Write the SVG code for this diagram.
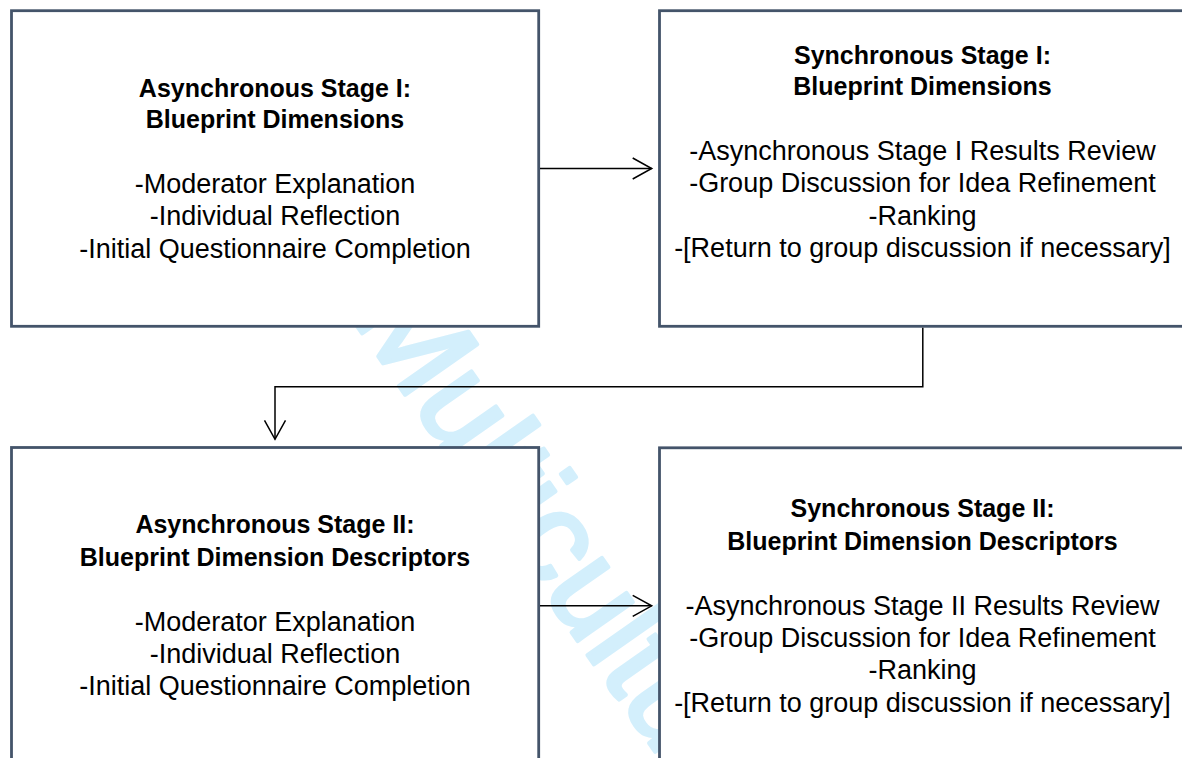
<svg xmlns="http://www.w3.org/2000/svg" width="1182" height="758" viewBox="0 0 1182 758">
  <style>
    .box { fill: #ffffff; stroke: #44546a; stroke-width: 2.8; }
    .title { font-family: "Liberation Sans", Arial, sans-serif; font-weight: bold; font-size: 25px; fill: #000000; text-anchor: middle; }
    .item { font-family: "Liberation Sans", Arial, sans-serif; font-size: 27px; fill: #000000; text-anchor: middle; }
    .conn { fill: none; stroke: #000000; stroke-width: 1.5; }
    .mark { font-family: "Liberation Sans", Arial, sans-serif; font-size: 128px; fill: #d3effc; stroke: #d3effc; stroke-width: 4; stroke-linejoin: round; }
  </style>
  <defs>
    <marker id="chevron" markerUnits="userSpaceOnUse" viewBox="-25 -15 30 30" markerWidth="30" markerHeight="30" refX="0" refY="0" orient="auto">
      <path d="M-19,-10.5 L0,0 L-19,10.5" fill="none" stroke="#000000" stroke-width="1.5"/>
    </marker>
  </defs>

  <rect width="1182" height="758" fill="#ffffff"/>

  <!-- background watermark, covered by the white boxes -->
  <text class="mark" transform="translate(350,316) rotate(55)">Multicultural</text>

  <g id="async-stage-1">
    <rect class="box" x="11.5" y="10.7" width="527.2" height="315.6"/>
    <text class="title" x="275" y="96.7">Asynchronous Stage I:</text>
    <text class="title" x="275" y="128.3">Blueprint Dimensions</text>
    <text class="item" x="275" y="193">-Moderator Explanation</text>
    <text class="item" x="275" y="225.3">-Individual Reflection</text>
    <text class="item" x="275" y="257.5">-Initial Questionnaire Completion</text>
  </g>

  <g id="sync-stage-1">
    <rect class="box" x="659.5" y="10.7" width="527" height="315.6"/>
    <text class="title" x="922.5" y="63.5">Synchronous Stage I:</text>
    <text class="title" x="922.5" y="95.3">Blueprint Dimensions</text>
    <text class="item" x="922.5" y="160">-Asynchronous Stage I Results Review</text>
    <text class="item" x="922.5" y="192.3">-Group Discussion for Idea Refinement</text>
    <text class="item" x="922.5" y="224.5">-Ranking</text>
    <text class="item" x="922.5" y="256.7">-[Return to group discussion if necessary]</text>
  </g>

  <g id="async-stage-2">
    <rect class="box" x="11.5" y="447.5" width="527.2" height="330"/>
    <text class="title" x="275" y="533.3">Asynchronous Stage II:</text>
    <text class="title" x="275" y="565.8">Blueprint Dimension Descriptors</text>
    <text class="item" x="275" y="630.7">-Moderator Explanation</text>
    <text class="item" x="275" y="662.8">-Individual Reflection</text>
    <text class="item" x="275" y="695">-Initial Questionnaire Completion</text>
  </g>

  <g id="sync-stage-2">
    <rect class="box" x="659.5" y="447.8" width="527" height="330"/>
    <text class="title" x="922.5" y="516.7">Synchronous Stage II:</text>
    <text class="title" x="922.5" y="549.5">Blueprint Dimension Descriptors</text>
    <text class="item" x="922.5" y="615">-Asynchronous Stage II Results Review</text>
    <text class="item" x="922.5" y="647">-Group Discussion for Idea Refinement</text>
    <text class="item" x="922.5" y="679.3">-Ranking</text>
    <text class="item" x="922.5" y="711.7">-[Return to group discussion if necessary]</text>
  </g>

  <g id="connectors">
    <path class="conn" d="M540,168.5 H651.7" marker-end="url(#chevron)"/>
    <path class="conn" d="M922.8,327.7 V386.7 H275 V439.3" marker-end="url(#chevron)"/>
    <path class="conn" d="M540,605.8 H651.7" marker-end="url(#chevron)"/>
  </g>
</svg>
